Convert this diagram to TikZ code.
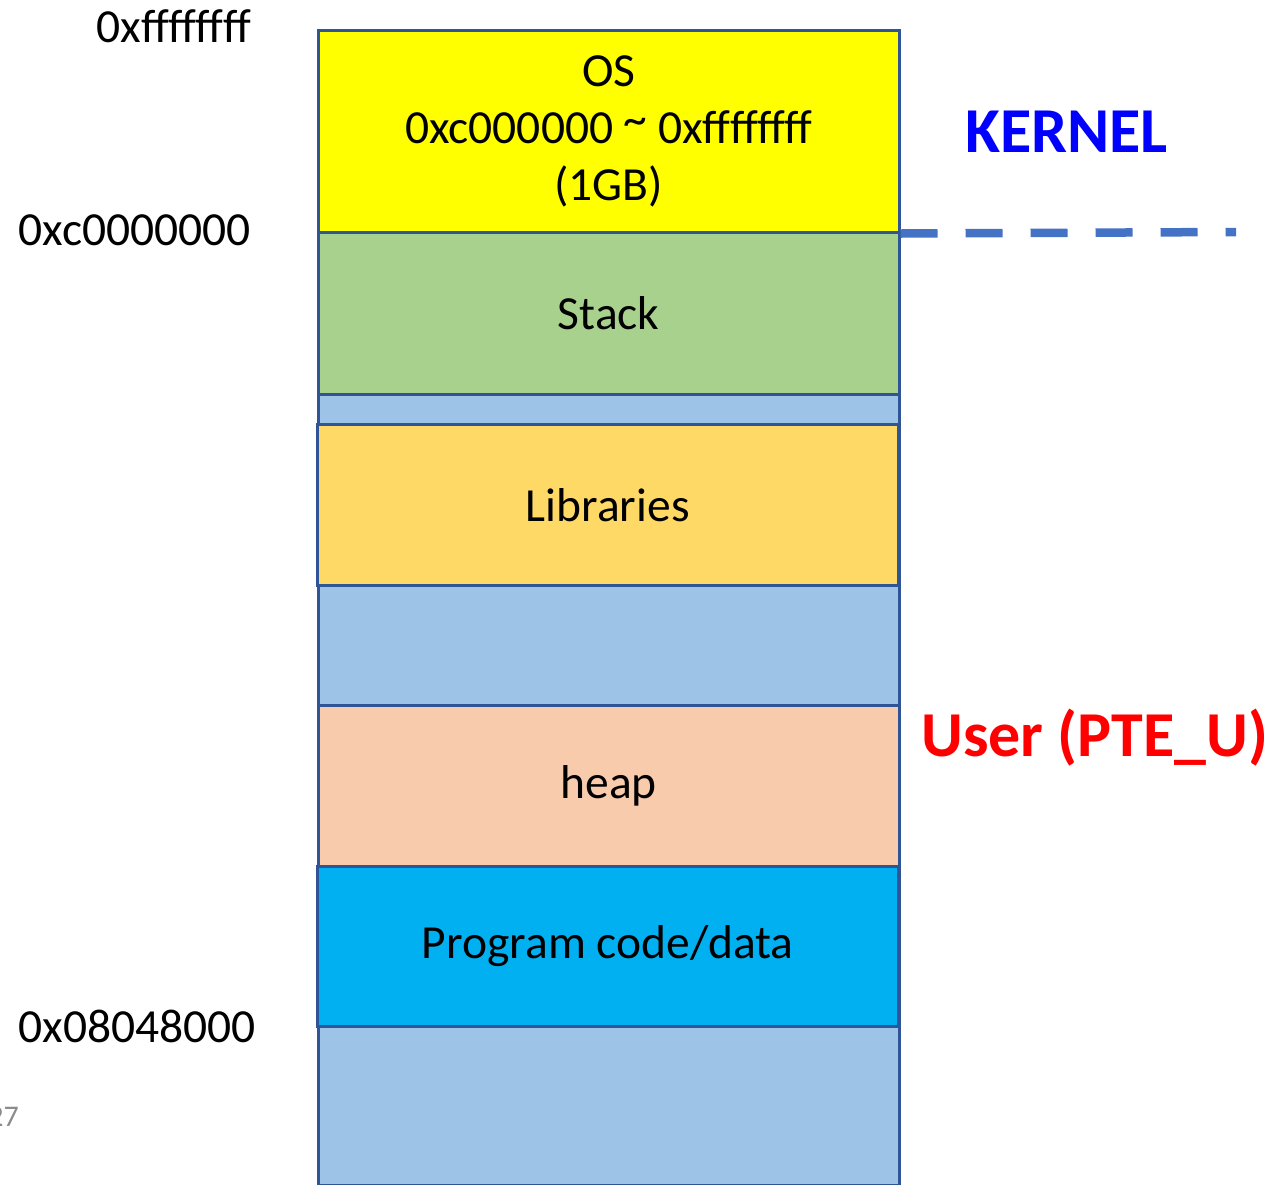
\documentclass[tikz,border=0pt]{standalone}
\usepackage{fontspec}
\setmainfont{Carlito}
\definecolor{osyellow}{HTML}{FFFF00}
\definecolor{stackgreen}{HTML}{A9D18E}
\definecolor{gapblue}{HTML}{9DC3E6}
\definecolor{libyellow}{HTML}{FFD966}
\definecolor{heapsalmon}{HTML}{F8CBAD}
\definecolor{progblue}{HTML}{00B0F0}
\definecolor{edgeblue}{HTML}{2F5597}
\definecolor{dashblue}{HTML}{4472C4}
\definecolor{kernelblue}{HTML}{0000FF}
\definecolor{userred}{HTML}{FF0000}
\definecolor{pagegray}{HTML}{8C8C8C}
\begin{document}
\begin{tikzpicture}[x=1pt,y=-1pt,
  seg/.style={draw=edgeblue, line width=2.5pt, anchor=north west, inner sep=0pt,
    minimum width=581pt, font=\fontsize{47.5}{57}\selectfont, align=center},
  addr/.style={anchor=base east, inner sep=0pt, font=\fontsize{47.5}{57}\selectfont},
  side/.style={anchor=base west, inner sep=0pt, font=\fontsize{64}{70}\selectfont\bfseries},
  dashline/.style={draw=dashblue, line width=8.5pt, dash pattern=on 37pt off 28pt}
]
\useasboundingbox (0,0) rectangle (1273,1184);
\clip (0,0) rectangle (1273,1184);
% background light-blue column
\node[seg, fill=gapblue, minimum height=791pt] (bg) at (317,393) {};
% segments
\node[seg, fill=osyellow, minimum height=202pt] (os) at (317,29)
  {OS\\0xc000000 \raisebox{0.35ex}{\textasciitilde} 0xffffffff\\(1GB)};
\node[seg, fill=stackgreen, minimum height=162pt] (stack) at (317,231) {Stack};
\node[seg, fill=libyellow, minimum height=161pt] (lib) at (316,423) {Libraries};
\node[seg, fill=heapsalmon, minimum height=161pt] (heap) at (317,704) {heap};
\node[seg, fill=progblue, minimum height=160pt] (prog) at (316,865) {Program code/data};
% address labels
\node[addr] (atop) at (251,42) {0xffffffff};
\node[addr] (amid) at (251,245) {0xc0000000};
\node[addr] (abot) at (256,1042) {0x08048000};
% side labels
\node[side, text=kernelblue] (kernel) at (965,152) {KERNEL};
\node[side, text=userred] (user) at (921,756) {User (PTE\_U)};
% dashed boundary
\coordinate (dashend) at (1236,232);
\draw[dashline] (os.south east) -- (dashend);
% slide number, cut off at the left edge as in the reference
\node[anchor=base east, inner sep=0pt, text=pagegray, font=\fontsize{30}{36}\selectfont] (pnum) at (19,1126) {27};
\end{tikzpicture}
\end{document}
